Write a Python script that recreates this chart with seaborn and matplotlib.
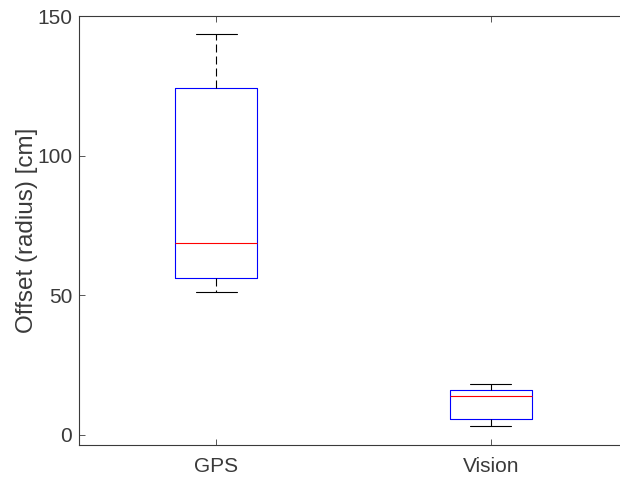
import pandas as pd
import matplotlib
matplotlib.use('Agg')
import matplotlib.pyplot as plt
import seaborn as sns

# values (min, q1, median, q3, max)
gps = [51.2, 56.2, 68.7, 124.2, 143.6]
vision = [3.2, 5.7, 14.0, 16.1, 18.3]
labels = ['GPS', 'Vision']

df = pd.DataFrame({
    'sensor': [labels[0]] * len(gps) + [labels[1]] * len(vision),
    'offset': gps + vision,
})

sns.set_style('white')
plt.rcParams['font.family'] = ['Liberation Sans', 'DejaVu Sans']
grey = '#3a3a3a'

fig = plt.figure(figsize=(6.2, 4.8), dpi=100)
ax = fig.add_axes([79 / 620, 1 - 445 / 480, 549 / 620, 429 / 480])

sns.boxplot(data=df, x='sensor', y='offset', order=labels, ax=ax,
            width=0.3, whis=1.5, fill=False, showfliers=False,
            capwidths=0.15,
            boxprops=dict(color='#0000ff', linewidth=0.8),
            medianprops=dict(color='#ff0000', linewidth=0.8),
            whiskerprops=dict(color='black', linewidth=0.8, linestyle=(0, (7.2, 3.6))),
            capprops=dict(color='black', linewidth=0.8))

ax.set_xlim(-0.5, 1.5)
ax.set_ylim(-3.6, 150)
ax.set_yticks([0, 50, 100, 150])
ax.set_xlabel('')
ax.set_ylabel('Offset (radius) [cm]', fontsize=17.5, color=grey, labelpad=-1)
ax.tick_params(direction='in', length=4, width=0.6, color=grey,
               labelcolor=grey, labelsize=15, top=True, left=True, bottom=True)
ax.tick_params(axis='x', pad=9)
ax.tick_params(axis='y', pad=5)
for s in ax.spines.values():
    s.set_color(grey)
    s.set_linewidth(0.8)
ax.spines['right'].set_visible(False)

fig.savefig('out.png', dpi=100)
